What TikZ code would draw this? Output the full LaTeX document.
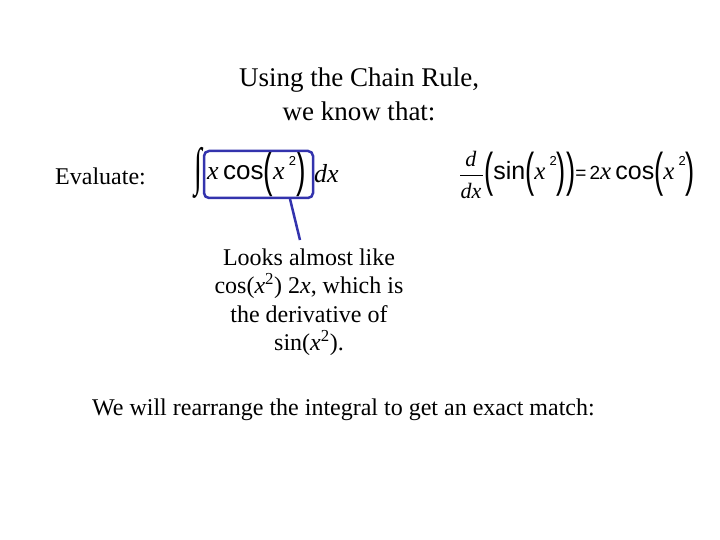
\documentclass[tikz,border=0pt]{standalone}
\usepackage{fontspec}
\usepackage{graphicx}
\setmainfont{Liberation Serif}
\newfontfamily\arial{Liberation Sans}
\newcommand{\bpl}{\raisebox{-0.28em}{\scalebox{1.1}[1.9]{\arial(}}}
\newcommand{\bpr}{\raisebox{-0.28em}{\scalebox{1.1}[1.9]{\arial)}}}
\newcommand{\sqq}{\raisebox{0.55em}{\arial\fontsize{13}{13}\selectfont 2}}
\begin{document}
\begin{tikzpicture}[x=1pt,y=-1pt,
  txt/.style={font=\fontsize{24}{28.5}\selectfont, align=center, inner sep=0pt},
  frm/.style={inner sep=0pt, font=\fontsize{26}{30}\selectfont}]
\useasboundingbox (0,0) rectangle (720,540);
\node[txt, font=\fontsize{27}{34}\selectfont] (title) at (359,94) {Using the Chain Rule,\\we know that:};
\node[txt, anchor=west] (eval) at (55,176) {Evaluate:};
\node[frm] (int) at (198,173) {\scalebox{1.1}[2]{∫}};
\node[frm, anchor=west] (expr) at (207,174) {\textit{x}\,\arial cos\bpl\rmfamily\textit{x}\,\sqq\bpr};
\node[frm, anchor=west] (dx) at (314,174) {\textit{dx}};
\draw[blue!60!black!80, line width=2.5pt, rounded corners=5pt] (204,151) rectangle (313,198);
\coordinate (bt) at (290,199);
\node[txt] (note) at (309,302) {Looks almost like\\cos(\textit{x}\textsuperscript{2}) 2\textit{x}, which is\\the derivative of\\sin(\textit{x}\textsuperscript{2}).};
\draw[blue!60!black!80, line width=2.5pt] (bt) -- (300,240);
\node[frm, font=\fontsize{22}{22}\selectfont] (dd) at (471,159) {\textit{d}};
\node[frm, font=\fontsize{22}{22}\selectfont] (dxx) at (471,191) {\textit{dx}};
\draw[line width=0.8pt] (460,175) -- (483,175);
\node[frm, anchor=west, font=\fontsize{25}{30}\selectfont] (rhs) at (484,174) {\bpl\arial sin\bpl\rmfamily\textit{x}\,\sqq\bpr\bpr\arial\fontsize{19}{20}\selectfont =\,2\rmfamily\fontsize{25}{26}\selectfont\textit{x}\,\arial cos\bpl\rmfamily\textit{x}\,\sqq\bpr};
\node[txt, anchor=west] (we) at (92,410) {We will rearrange the integral to get an exact match:};
\end{tikzpicture}
\end{document}
